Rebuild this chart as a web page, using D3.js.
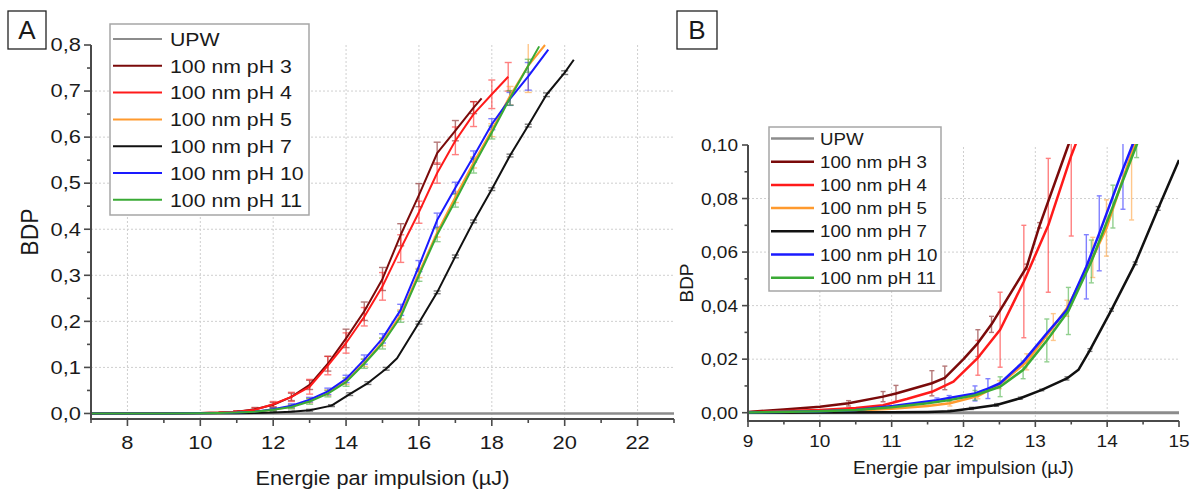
<!DOCTYPE html>
<html><head><meta charset="utf-8">
<script src="https://cdn.jsdelivr.net/npm/d3@7"></script>
<style>
body{margin:0;background:#fff}
svg text{font-family:"Liberation Sans",Arial,sans-serif;fill:#1a1a1a}
</style>
</head><body>
<svg id="chart" width="1195" height="490"></svg>
<script>
// ---------- legend / series ----------
const seriesNames = ["UPW","100 nm pH 3","100 nm pH 4","100 nm pH 5","100 nm pH 7","100 nm pH 10","100 nm pH 11"];
const seriesColors = ["#8c8c8c","#7a0a0a","#ff1a1a","#ff9a2e","#111111","#1a1aff","#3aaa35"];

// ---------- Panel A data ----------
const A_upw_x = [7, 23];
const A_upw_y = [0, 0];
const A_upw_e = [0, 0];

const A_pH3_x = [7, 9, 10, 10.5, 11, 11.5, 12, 12.5, 13, 13.5, 14, 14.5, 15, 15.5, 16, 16.5, 17, 17.5, 17.72];
const A_pH3_y = [0, 0.0005, 0.001, 0.002, 0.004, 0.009, 0.019, 0.036, 0.062, 0.108, 0.163, 0.222, 0.292, 0.388, 0.474, 0.565, 0.614, 0.664, 0.684];
const A_pH3_e = [0, 0, 0, 0, 0.002, 0.004, 0.005, 0.008, 0.01, 0.016, 0.02, 0.02, 0.025, 0.024, 0.025, 0.024, 0.022, 0.013, 0];

const A_pH4_x = [7, 9, 10, 10.5, 11, 11.5, 12, 12.5, 13, 13.5, 14, 14.5, 15, 15.5, 16, 16.5, 17, 17.5, 18, 18.45];
const A_pH4_y = [0, 0.0005, 0.001, 0.002, 0.004, 0.008, 0.02, 0.036, 0.058, 0.104, 0.153, 0.21, 0.276, 0.358, 0.437, 0.522, 0.592, 0.65, 0.693, 0.731];
const A_pH4_e = [0, 0, 0, 0, 0.002, 0.004, 0.006, 0.01, 0.016, 0.02, 0.022, 0.02, 0.03, 0.03, 0.024, 0.022, 0.03, 0.027, 0.031, 0.031];

const A_pH5_x = [7, 9, 10, 10.5, 11, 11.5, 12, 12.5, 13, 13.5, 14, 14.5, 15, 15.5, 16, 16.5, 17, 17.5, 18, 18.5, 19, 19.46];
const A_pH5_y = [0, 0.0002, 0.0005, 0.001, 0.002, 0.004, 0.008, 0.015, 0.028, 0.045, 0.07, 0.11, 0.155, 0.215, 0.305, 0.393, 0.47, 0.545, 0.615, 0.69, 0.755, 0.8];
const A_pH5_e = [0, 0, 0, 0, 0, 0.002, 0.003, 0.004, 0.005, 0.006, 0.007, 0.008, 0.008, 0.01, 0.01, 0.01, 0.012, 0.012, 0.014, 0.02, 0.058, 0];

const A_pH7_x = [7, 9, 10, 11, 11.5, 12, 12.5, 13, 13.6, 14.1, 14.6, 15.1, 15.4, 16, 16.5, 17, 17.5, 18, 18.5, 19, 19.5, 20, 20.25];
const A_pH7_y = [0, 0, 0.0003, 0.0006, 0.001, 0.002, 0.004, 0.007, 0.017, 0.042, 0.066, 0.097, 0.12, 0.197, 0.263, 0.341, 0.417, 0.487, 0.56, 0.625, 0.692, 0.74, 0.768];
const A_pH7_e = [0, 0, 0, 0, 0, 0.001, 0.001, 0.002, 0.002, 0.003, 0.003, 0.003, 0, 0.003, 0.003, 0.003, 0.003, 0.003, 0.003, 0.003, 0.004, 0.004, 0];

const A_pH10_x = [7, 9, 10, 10.5, 11, 11.5, 12, 12.5, 13, 13.5, 14, 14.5, 15, 15.5, 16, 16.5, 17, 17.5, 18, 18.5, 19, 19.55];
const A_pH10_y = [0, 0.0002, 0.0005, 0.001, 0.002, 0.004, 0.009, 0.017, 0.03, 0.048, 0.075, 0.117, 0.163, 0.225, 0.32, 0.42, 0.49, 0.558, 0.628, 0.683, 0.732, 0.79];
const A_pH10_e = [0, 0, 0, 0, 0, 0.002, 0.003, 0.004, 0.005, 0.007, 0.008, 0.01, 0.01, 0.012, 0.012, 0.015, 0.012, 0.012, 0.012, 0.014, 0.03, 0];

const A_pH11_x = [7, 9, 10, 10.5, 11, 11.5, 12, 12.5, 13, 13.5, 14, 14.5, 15, 15.5, 16, 16.5, 17, 17.5, 18, 18.5, 19, 19.3];
const A_pH11_y = [0, 0.0002, 0.0005, 0.001, 0.002, 0.004, 0.008, 0.014, 0.026, 0.043, 0.068, 0.108, 0.152, 0.21, 0.3, 0.388, 0.462, 0.538, 0.61, 0.685, 0.755, 0.797];
const A_pH11_e = [0, 0, 0, 0, 0, 0.002, 0.003, 0.004, 0.006, 0.007, 0.009, 0.01, 0.012, 0.012, 0.013, 0.015, 0.014, 0.016, 0.014, 0.016, 0.014, 0];

// ---------- Panel B data ----------
const B_upw_x = [9, 15];
const B_upw_y = [0, 0];
const B_upw_e = [0, 0];

const B_pH3_x = [9, 9.5, 10, 10.4, 10.88, 11.06, 11.56, 11.74, 12.0, 12.2, 12.39, 12.88, 13.06, 13.46, 13.7];
const B_pH3_y = [0.0003, 0.0012, 0.0022, 0.0035, 0.006, 0.0072, 0.011, 0.013, 0.02, 0.026, 0.033, 0.0545, 0.07, 0.1, 0.117];
const B_pH3_e = [0, 0, 0, 0.001, 0.0019, 0.003, 0.0047, 0.0044, 0, 0.005, 0.003, 0.001, 0.001, 0, 0];

const B_pH4_x = [9, 10, 10.5, 10.88, 11.21, 11.56, 11.86, 12.2, 12.51, 12.84, 13.18, 13.5, 13.7];
const B_pH4_y = [0.0002, 0.001, 0.0018, 0.0028, 0.0051, 0.0078, 0.0116, 0.0205, 0.031, 0.049, 0.07, 0.096, 0.11];
const B_pH4_e = [0, 0, 0, 0, 0, 0, 0, 0.0065, 0.014, 0.021, 0.025, 0.03, 0];

const B_pH5_x = [9, 10, 10.5, 11, 11.5, 11.81, 12.2, 12.5, 12.88, 13.25, 13.44, 13.8, 13.99, 14.34, 14.5];
const B_pH5_y = [0.0001, 0.0004, 0.0008, 0.0015, 0.0025, 0.0035, 0.0062, 0.0105, 0.019, 0.032, 0.039, 0.058, 0.069, 0.097, 0.108];
const B_pH5_e = [0, 0, 0, 0, 0, 0.001, 0.001, 0.0015, 0.003, 0.005, 0.003, 0.0075, 0.0105, 0.025, 0];

const B_pH7_x = [9, 10, 11, 11.5, 11.81, 12.11, 12.46, 12.79, 13.09, 13.44, 13.6, 13.76, 14.06, 14.39, 14.71, 15.0];
const B_pH7_y = [0, 0.0001, 0.0002, 0.0003, 0.0005, 0.0016, 0.0029, 0.0054, 0.0085, 0.0128, 0.016, 0.0234, 0.0384, 0.0558, 0.0763, 0.0944];
const B_pH7_e = [0, 0, 0, 0, 0.0004, 0.0004, 0.0005, 0.0004, 0.0003, 0.0006, 0, 0.0005, 0.0005, 0.0005, 0.0007, 0];

const B_pH10_x = [9, 10, 10.5, 11.02, 11.63, 11.8, 12.16, 12.34, 12.51, 12.83, 13.16, 13.44, 13.71, 13.89, 14.22, 14.5];
const B_pH10_y = [0.0001, 0.0005, 0.001, 0.0025, 0.0047, 0.0055, 0.0072, 0.009, 0.011, 0.019, 0.0297, 0.0384, 0.0545, 0.067, 0.091, 0.11];
const B_pH10_e = [0, 0, 0, 0, 0.0008, 0.0009, 0.0028, 0.0037, 0, 0, 0, 0, 0.012, 0.014, 0.015, 0];

const B_pH11_x = [9, 10, 10.5, 11, 11.5, 11.8, 12.16, 12.51, 12.83, 13.16, 13.46, 13.78, 14.08, 14.41, 14.6];
const B_pH11_y = [0.0001, 0.0005, 0.001, 0.002, 0.0035, 0.0047, 0.0065, 0.0097, 0.016, 0.027, 0.038, 0.0565, 0.077, 0.1, 0.112];
const B_pH11_e = [0, 0, 0, 0, 0, 0.0005, 0.0018, 0.0037, 0.0033, 0.008, 0.0088, 0.008, 0.008, 0.0047, 0];

// ---------- axis ticks ----------
const A_xTicks = [8, 10, 12, 14, 16, 18, 20, 22];
const A_xMinor = [7, 9, 11, 13, 15, 17, 19, 21, 23];
const A_yTicks = [0, 0.1, 0.2, 0.3, 0.4, 0.5, 0.6, 0.7, 0.8];
const A_yMinor = [0.05, 0.15, 0.25, 0.35, 0.45, 0.55, 0.65, 0.75];
const B_xTicks = [9, 10, 11, 12, 13, 14, 15];
const B_xMinor = [9.5, 10.5, 11.5, 12.5, 13.5, 14.5];
const B_yTicks = [0, 0.02, 0.04, 0.06, 0.08, 0.10];
const B_yMinor = [0.01, 0.03, 0.05, 0.07, 0.09];

const xLabel = "Energie par impulsion (µJ)";
const yLabel = "BDP";

// ---------- build ----------
const svg = d3.select("#chart");
svg.append("rect").attr("width",1195).attr("height",490).attr("fill","#fff");

function pack(xs, ys, es){ return xs.map((x,i)=>({x, y:ys[i], e:es[i]})); }
function addText(g, x, y, str, size, anchor, sx, dy){
  return g.append("text").attr("transform",`translate(${x},${y}) scale(${sx},1)`)
    .attr("text-anchor",anchor).attr("font-size",size).attr("dy",dy||0).text(str);
}

const panels = [
  {
    id:"A", xDomain:[7,23], yDomain:[-0.012,0.8], xRange:[91,674], yRange:[419,45],
    xTicks:A_xTicks, xMinor:A_xMinor, yTicks:A_yTicks, yMinor:A_yMinor, yDec:1,
    series:[pack(A_upw_x,A_upw_y,A_upw_e),pack(A_pH3_x,A_pH3_y,A_pH3_e),pack(A_pH4_x,A_pH4_y,A_pH4_e),
            pack(A_pH5_x,A_pH5_y,A_pH5_e),pack(A_pH7_x,A_pH7_y,A_pH7_e),pack(A_pH10_x,A_pH10_y,A_pH10_e),
            pack(A_pH11_x,A_pH11_y,A_pH11_e)],
    tickFont:17.5, tickSx:1.25, labelFont:20.5, labelSx:1.06, yLabFont:23, lw:2, cap:3.5, majorLen:7, minorLen:4,
    tickLabelDX:-10, xTickBaseline:449, xLabelY:485, yLabelX:38,
    legend:{x:110, y:24, w:199, h:191, lx1:113, lx2:162, tx:170, ty0:39, dy:26.8, font:19, sx:1.12},
    frame:{x:8, y:11, w:38, h:38}
  },
  {
    id:"B", xDomain:[9,15], yDomain:[-0.0031,0.1], xRange:[748,1179], yRange:[421,145],
    xTicks:B_xTicks, xMinor:B_xMinor, yTicks:B_yTicks, yMinor:B_yMinor, yDec:2,
    series:[pack(B_upw_x,B_upw_y,B_upw_e),pack(B_pH3_x,B_pH3_y,B_pH3_e),pack(B_pH4_x,B_pH4_y,B_pH4_e),
            pack(B_pH5_x,B_pH5_y,B_pH5_e),pack(B_pH7_x,B_pH7_y,B_pH7_e),pack(B_pH10_x,B_pH10_y,B_pH10_e),
            pack(B_pH11_x,B_pH11_y,B_pH11_e)],
    tickFont:17, tickSx:1.12, labelFont:18, labelSx:1.05, yLabFont:19, lw:2.5, cap:2.5, majorLen:6, minorLen:3.5,
    tickLabelDX:-10, xTickBaseline:447, xLabelY:474, yLabelX:693,
    legend:{x:769, y:127, w:172, h:164, lx1:771, lx2:814, tx:820, ty0:138.5, dy:23.2, font:17, sx:1.1},
    frame:{x:677, y:11, w:40, h:38}
  }
];

panels.forEach((P)=>{
  const x = d3.scaleLinear().domain(P.xDomain).range(P.xRange);
  const y = d3.scaleLinear().domain(P.yDomain).range(P.yRange);
  const g = svg.append("g");
  const clipId = "clip"+P.id;
  svg.append("defs").append("clipPath").attr("id",clipId).append("rect")
    .attr("x",P.xRange[0]).attr("y",P.yRange[1]-1).attr("width",P.xRange[1]-P.xRange[0]).attr("height",P.yRange[0]-P.yRange[1]+1);

  // grid
  const grid = g.append("g").attr("stroke","#cfcfcf").attr("stroke-width",1).attr("stroke-dasharray","2,2");
  P.xTicks.filter(t=>t>P.xDomain[0] && t<P.xDomain[1]).forEach(t=>{
    grid.append("line").attr("x1",x(t)).attr("x2",x(t)).attr("y1",P.yRange[0]).attr("y2",P.yRange[1]);
  });
  P.yTicks.filter(t=>t>0 && t<P.yDomain[1]).forEach(t=>{
    grid.append("line").attr("y1",y(t)).attr("y2",y(t)).attr("x1",P.xRange[0]).attr("x2",P.xRange[1]);
  });

  const plot = g.append("g").attr("clip-path",`url(#${clipId})`);
  // error bars
  P.series.forEach((S, si)=>{
    const eb = plot.append("g").attr("stroke",seriesColors[si]).attr("stroke-width",1.4).attr("opacity",0.55);
    S.filter(d=>d.e>0).forEach(d=>{
      const xp = x(d.x), y1 = y(d.y - d.e), y2 = y(d.y + d.e);
      eb.append("line").attr("x1",xp).attr("x2",xp).attr("y1",y1).attr("y2",y2);
      eb.append("line").attr("x1",xp-P.cap).attr("x2",xp+P.cap).attr("y1",y1).attr("y2",y1);
      eb.append("line").attr("x1",xp-P.cap).attr("x2",xp+P.cap).attr("y1",y2).attr("y2",y2);
    });
  });
  // lines
  const line = d3.line().x(d=>x(d.x)).y(d=>y(d.y));
  P.series.forEach((S, si)=>{
    plot.append("path").datum(S).attr("d",line).attr("fill","none")
      .attr("stroke",seriesColors[si]).attr("stroke-width", si===0 ? P.lw+0.5 : P.lw)
      .attr("stroke-linejoin","round");
  });

  // axes
  const ax = g.append("g").attr("stroke","#4a4a4a").attr("stroke-width",2);
  ax.append("line").attr("x1",P.xRange[0]).attr("x2",P.xRange[0]).attr("y1",P.yRange[1]).attr("y2",P.yRange[0]+1);
  ax.append("line").attr("x1",P.xRange[0]-1).attr("x2",P.xRange[1]).attr("y1",P.yRange[0]).attr("y2",P.yRange[0]);
  const tk = g.append("g").attr("stroke","#4a4a4a").attr("stroke-width",1.6);
  P.yTicks.forEach(t=>tk.append("line").attr("x1",P.xRange[0]-P.majorLen).attr("x2",P.xRange[0]).attr("y1",y(t)).attr("y2",y(t)));
  P.yMinor.forEach(t=>tk.append("line").attr("x1",P.xRange[0]-P.minorLen).attr("x2",P.xRange[0]).attr("y1",y(t)).attr("y2",y(t)));
  P.xTicks.forEach(t=>tk.append("line").attr("x1",x(t)).attr("x2",x(t)).attr("y1",P.yRange[0]).attr("y2",P.yRange[0]+P.majorLen));
  P.xMinor.forEach(t=>tk.append("line").attr("x1",x(t)).attr("x2",x(t)).attr("y1",P.yRange[0]).attr("y2",P.yRange[0]+P.minorLen));

  // tick labels
  const fmtY = d=>d.toFixed(P.yDec).replace(".",",");
  P.yTicks.forEach(t=>addText(g, P.xRange[0]+P.tickLabelDX, y(t), fmtY(t), P.tickFont, "end", P.tickSx, "0.36em"));
  P.xTicks.forEach(t=>addText(g, x(t), P.xTickBaseline, String(t), P.tickFont, "middle", P.tickSx));

  // axis labels
  addText(g, (P.xRange[0]+P.xRange[1])/2, P.xLabelY, xLabel, P.labelFont, "middle", P.labelSx);
  const cy = (P.yRange[0]+P.yRange[1])/2;
  g.append("text").attr("transform",`translate(${P.yLabelX},${cy}) rotate(-90)`).attr("text-anchor","middle")
    .attr("font-size",P.yLabFont).text(yLabel);

  // legend
  const L = P.legend;
  const lg = g.append("g");
  lg.append("rect").attr("x",L.x).attr("y",L.y).attr("width",L.w).attr("height",L.h)
    .attr("fill","#fff").attr("stroke","#a6a6a6").attr("stroke-width",1.5);
  seriesNames.forEach((n,i)=>{
    const yy = L.ty0 + i*L.dy;
    lg.append("line").attr("x1",L.lx1).attr("x2",L.lx2).attr("y1",yy).attr("y2",yy)
      .attr("stroke",seriesColors[i]).attr("stroke-width",P.lw);
    addText(lg, L.tx, yy, n, L.font, "start", L.sx, "0.36em");
  });

  // frame label
  const F = P.frame;
  g.append("rect").attr("x",F.x).attr("y",F.y).attr("width",F.w).attr("height",F.h)
    .attr("fill","#fff").attr("stroke","#222").attr("stroke-width",1.3);
  g.append("text").attr("x",F.x+F.w/2).attr("y",F.y+F.h/2).attr("dy","0.36em").attr("text-anchor","middle")
    .attr("font-size",26).text(P.id);
});
</script>
</body></html>
